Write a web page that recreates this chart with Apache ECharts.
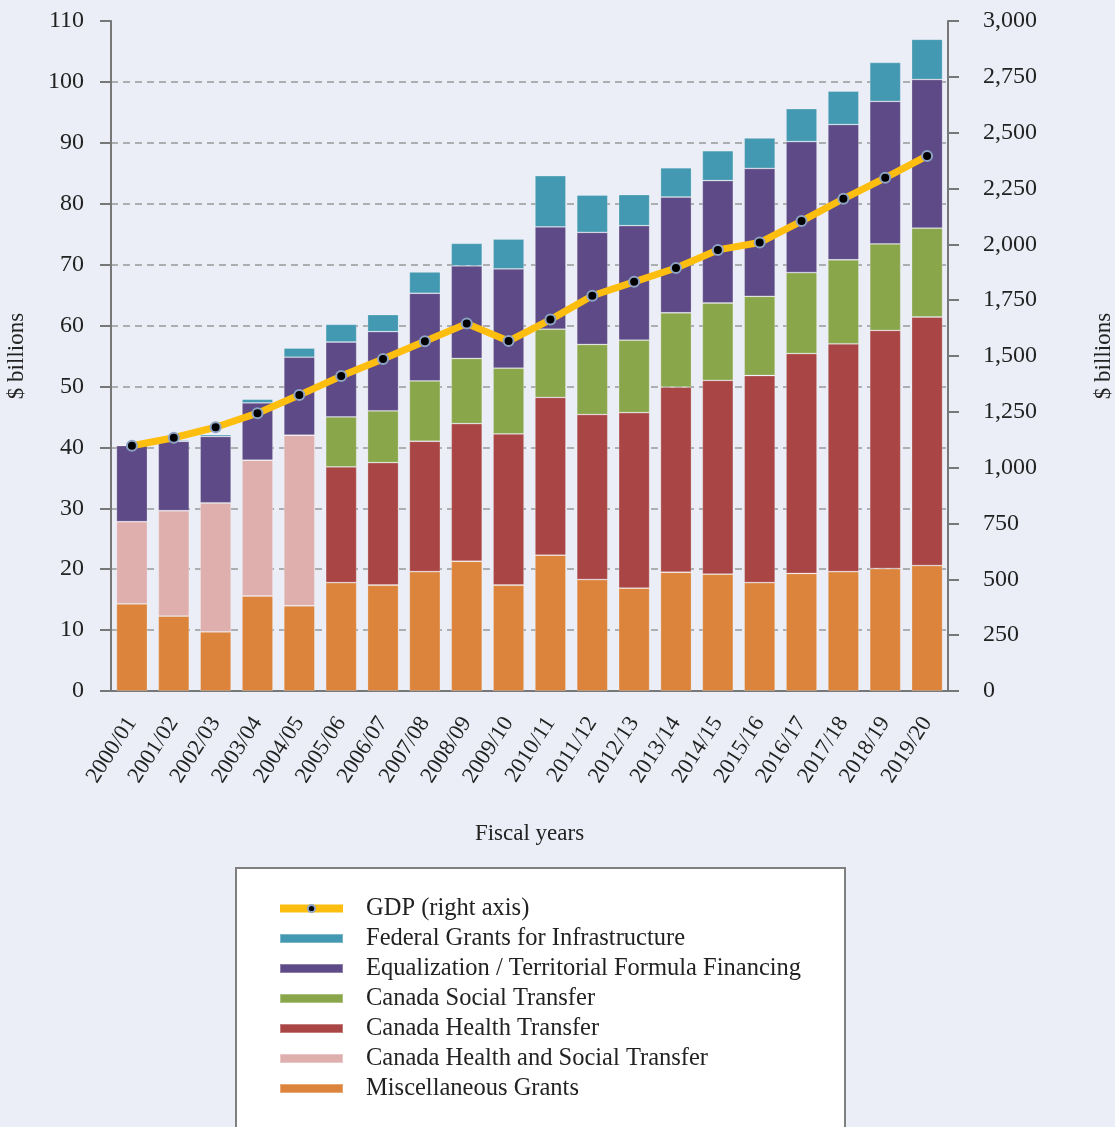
<!DOCTYPE html>
<html>
<head>
<meta charset="utf-8">
<script src="https://cdn.jsdelivr.net/npm/echarts@6/dist/echarts.min.js"></script>
<style>
  html, body { margin: 0; padding: 0; background: #ebeef6; }
  #chart { width: 1115px; height: 1127px; }
</style>
</head>
<body>
<div id="chart"></div>
<script>
const years = ["2000/01", "2001/02", "2002/03", "2003/04", "2004/05", "2005/06", "2006/07",
  "2007/08", "2008/09", "2009/10", "2010/11", "2011/12", "2012/13", "2013/14", "2014/15",
  "2015/16", "2016/17", "2017/18", "2018/19", "2019/20"];

// $ billions, stacked from the bottom
const miscGrants = [14.3, 12.3, 9.7, 15.6, 14.0, 17.8, 17.4, 19.6, 21.3, 17.4, 22.3, 18.3, 16.9, 19.5, 19.2, 17.8, 19.3, 19.6, 20.1, 20.6];
const chst = [13.5, 17.3, 21.2, 22.3, 28.0, 0, 0, 0, 0, 0, 0, 0, 0, 0, 0, 0, 0, 0, 0, 0];
const cht = [0, 0, 0, 0, 0, 19.0, 20.1, 21.4, 22.6, 24.8, 25.9, 27.1, 28.8, 30.4, 31.8, 34.0, 36.1, 37.4, 39.1, 40.8];
const cst = [0, 0, 0, 0, 0, 8.2, 8.5, 9.9, 10.7, 10.8, 11.2, 11.5, 11.9, 12.2, 12.7, 13.0, 13.3, 13.8, 14.2, 14.6];
const equalization = [12.5, 11.4, 10.9, 9.4, 12.8, 12.3, 13.0, 14.4, 15.2, 16.3, 16.8, 18.4, 18.8, 19.0, 20.1, 21.0, 21.5, 22.2, 23.4, 24.4];
const infrastructure = [0.1, 0.2, 0.3, 0.6, 1.5, 2.9, 2.8, 3.5, 3.7, 4.9, 8.4, 6.1, 5.1, 4.8, 4.9, 5.0, 5.4, 5.5, 6.4, 6.6];
// right axis
const gdp = [1098, 1134, 1181, 1244, 1325, 1410, 1487, 1566, 1645, 1567, 1663, 1770, 1832, 1894, 1975, 2008, 2104, 2204, 2298, 2396];

const leftTicks = [0, 110, 10];
const rightTicks = [0, 3000, 250];

const serif = "'Liberation Serif', 'DejaVu Serif', serif";
const txt = "#222";

const myChart = echarts.init(document.getElementById("chart"));

function barSeries(name, data, color) {
  return {
    name: name,
    type: "bar",
    stack: "transfers",
    data: data,
    barWidth: 31,
    itemStyle: { color: color, borderColor: "rgba(255,255,255,0.3)", borderWidth: 0.8 },
  };
}

const option = {
  backgroundColor: "#ebeef6",
  animation: false,
  grid: { left: 111, right: 167, top: 21, bottom: 436, containLabel: false, outerBoundsMode: "none" },
  graphic: [
    {
      type: "rect",
      shape: { x: 236, y: 868, width: 609, height: 270 },
      style: { fill: "#fff", stroke: "#7f7f7f", lineWidth: 2 },
      z: 0,
    },
  ],
  legend: {
    orient: "vertical",
    left: 276,
    top: 896,
    padding: 0,
    itemWidth: 63,
    itemHeight: 9,
    itemGap: 5,
    data: [
      { name: "GDP (right axis)", lineStyle: { width: 8 } },
      { name: "Federal Grants for Infrastructure", icon: "rect" },
      { name: "Equalization / Territorial Formula Financing", icon: "rect" },
      { name: "Canada Social Transfer", icon: "rect" },
      { name: "Canada Health Transfer", icon: "rect" },
      { name: "Canada Health and Social Transfer", icon: "rect" },
      { name: "Miscellaneous Grants", icon: "rect" },
    ],
    textStyle: { fontFamily: serif, fontSize: 24.5, color: txt, padding: [0, 0, 0, 18], lineHeight: 24 },
    z: 5,
  },
  xAxis: {
    type: "category",
    data: years,
    name: "Fiscal years",
    nameLocation: "middle",
    nameGap: 131,
    nameTextStyle: { fontFamily: serif, fontSize: 23, color: txt },
    axisLine: { lineStyle: { color: "#777", width: 2 } },
    axisTick: { length: 10, lineStyle: { color: "#777", width: 2 } },
    axisLabel: { rotate: 57, fontFamily: serif, fontSize: 22.5, color: txt, margin: 28 },
  },
  yAxis: [
    {
      type: "value",
      min: leftTicks[0],
      max: leftTicks[1],
      interval: leftTicks[2],
      name: "$ billions",
      nameLocation: "middle",
      nameGap: 83,
      nameRotate: 90,
      nameTextStyle: { fontFamily: serif, fontSize: 23, color: txt },
      axisLine: { show: true, lineStyle: { color: "#777", width: 2 } },
      axisTick: { show: true, length: 11, lineStyle: { color: "#777", width: 2 } },
      axisLabel: { fontFamily: serif, fontSize: 24, color: txt, margin: 27 },
      splitLine: {
        show: true,
        showMinLine: false,
        showMaxLine: false,
        lineStyle: { color: "#999", type: [7, 5], width: 1.5 },
      },
    },
    {
      type: "value",
      min: rightTicks[0],
      max: rightTicks[1],
      interval: rightTicks[2],
      name: "$ billions",
      nameLocation: "middle",
      nameGap: 144,
      nameRotate: 90,
      nameTextStyle: { fontFamily: serif, fontSize: 23, color: txt },
      axisLine: { show: true, lineStyle: { color: "#777", width: 2 } },
      axisTick: { show: true, length: 11, lineStyle: { color: "#777", width: 2 } },
      axisLabel: {
        fontFamily: serif, fontSize: 24, color: txt, margin: 35,
        formatter: (v) => v.toLocaleString("en-US"),
      },
      splitLine: { show: false },
    },
  ],
  series: [
    barSeries("Miscellaneous Grants", miscGrants, "#dc843c"),
    barSeries("Canada Health and Social Transfer", chst, "#dfafae"),
    barSeries("Canada Health Transfer", cht, "#a94645"),
    barSeries("Canada Social Transfer", cst, "#8aa64b"),
    barSeries("Equalization / Territorial Formula Financing", equalization, "#5d4a86"),
    barSeries("Federal Grants for Infrastructure", infrastructure, "#4299b1"),
    {
      name: "GDP (right axis)",
      type: "line",
      yAxisIndex: 1,
      data: gdp,
      symbol: "circle",
      symbolSize: 10,
      lineStyle: { color: "#fdbe10", width: 7 },
      itemStyle: { color: "#000", borderColor: "#8ea3c4", borderWidth: 2 },
      z: 10,
    },
  ],
};

myChart.setOption(option);
</script>
</body>
</html>
